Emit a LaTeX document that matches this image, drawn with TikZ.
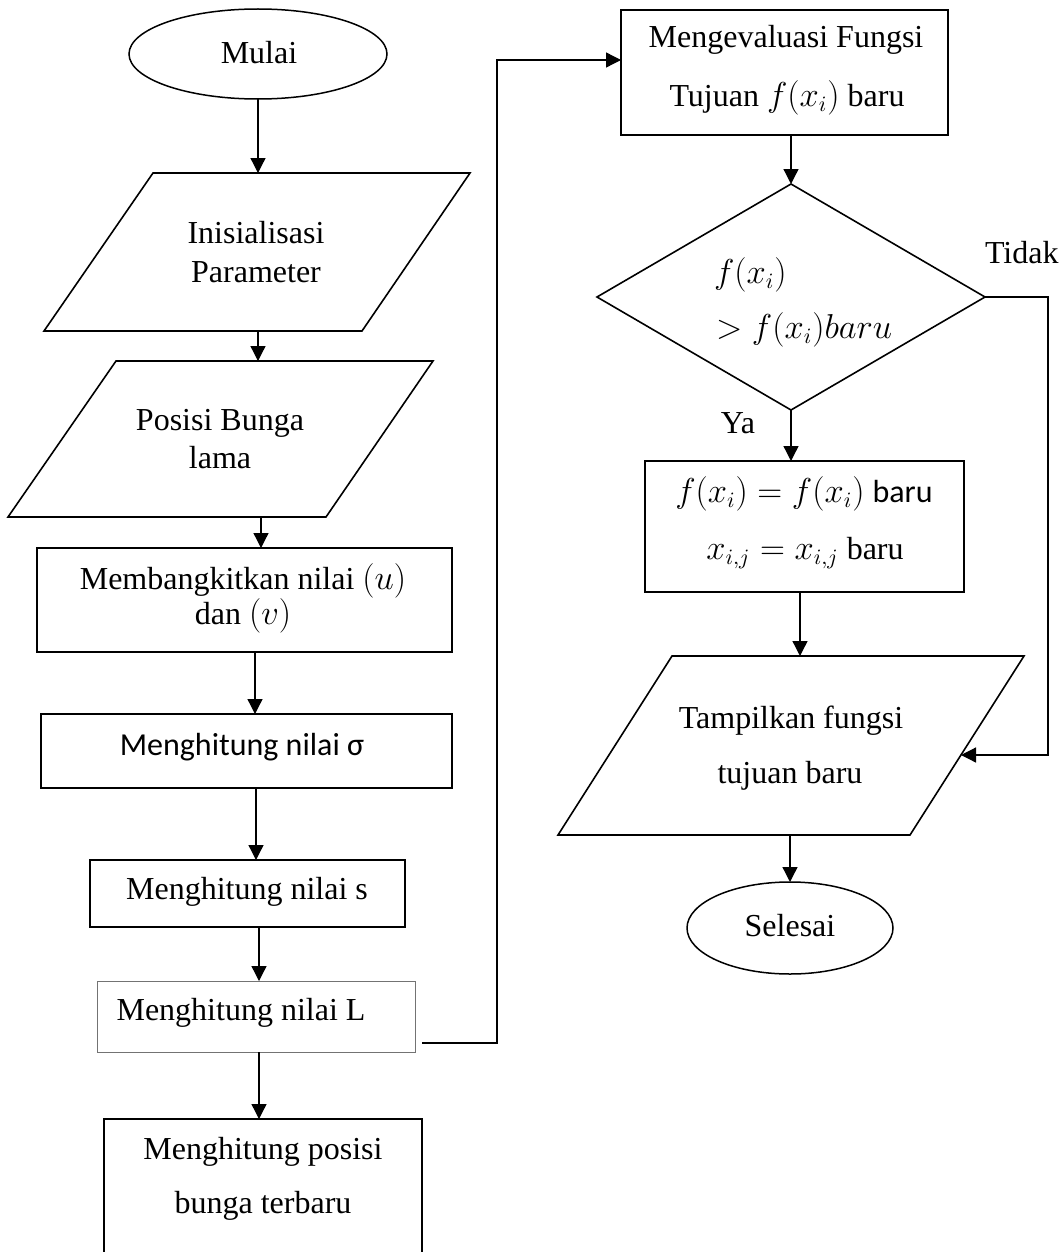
\documentclass[tikz,border=0pt]{standalone}
\usepackage{fontspec}
\setmainfont{Liberation Serif}
\newfontfamily\calibri{Carlito}
\usetikzlibrary{shapes.geometric,arrows.meta}
\begin{document}
\begin{tikzpicture}[x=0.5pt,y=-0.5pt,
  font=\fontsize{16pt}{19pt}\selectfont,
  every node/.style={inner sep=0pt, outer sep=0pt},
  shp/.style={draw, line width=0.8pt, line join=miter},
  box/.style={draw, rectangle, line width=0.8pt},
  oval/.style={draw, ellipse, line width=0.75pt},
  txt/.style={anchor=base},
  conn/.style={line width=0.65pt, -{Triangle[length=7.5pt,width=7.5pt]}}]
\useasboundingbox (0,0) rectangle (1059,1252);
\clip (0,0) rectangle (1059,1252);

% ---------- left column ----------
\node[oval, minimum width=129pt, minimum height=45pt] (mulai) at (258,54) {};
\node[txt] (tmulai) at (259,64) {Mulai};

\draw[shp] (153,173) -- (470,173) -- (362,331) -- (44,331) -- cycle;
\coordinate (p1n) at (258,173);
\coordinate (p1s) at (258,331);
\node[txt] (tini1) at (256,243) {Inisialisasi};
\node[txt] (tini2) at (256,282) {Parameter};

\draw[shp] (116,361) -- (433,361) -- (326,517) -- (8,517) -- cycle;
\coordinate (p2n) at (258,361);
\coordinate (p2s) at (261,517);
\node[txt] (tpos1) at (220,430) {Posisi Bunga};
\node[txt] (tpos2) at (220,468) {lama};

\node[box, minimum width=207.5pt, minimum height=52pt] (mem) at (244.5,600) {};
\node[txt] (tmem1) at (243,589) {Membangkitkan nilai $(u)$};
\node[txt] (tmem2) at (243,624) {dan $(v)$};

\node[box, minimum width=205.5pt, minimum height=37pt] (sig) at (246.5,751) {};
\node[txt] (tsig) at (242,755) {\calibri Menghitung nilai σ};

\node[box, minimum width=157.5pt, minimum height=33.5pt] (sbox) at (247.5,893.5) {};
\node[txt] (ts) at (247,899) {Menghitung nilai s};

\node[draw=black!55, line width=0.4pt, rectangle, minimum width=159pt, minimum height=35.5pt] (lbox) at (256,1016.5) {};
\node[txt] (tl) at (241,1020) {Menghitung nilai L};

\node[box, minimum width=159pt, minimum height=73pt] (pos) at (263,1192) {};
\node[txt] (tpb1) at (263,1159) {Menghitung posisi};
\node[txt] (tpb2) at (263,1213) {bunga terbaru};

% ---------- right column ----------
\node[box, minimum width=163.5pt, minimum height=62.5pt] (eval) at (784.5,72.5) {};
\node[txt] (tev1) at (786,48) {Mengevaluasi Fungsi};
\node[txt] (tev2) at (787,106) {Tujuan $f(x_i)$ baru};

\coordinate (dn) at (791,184);
\coordinate (de) at (985,297);
\coordinate (ds) at (791,410);
\coordinate (dw) at (597,297);
\draw[shp] (dn) -- (de) -- (ds) -- (dw) -- cycle;
\node[anchor=base west] (tdia1) at (714,283) {$f(x_i)$};
\node[anchor=base west] (tdia2) at (716,338) {$> f(x_i) baru$};
\node[anchor=base west] (ttidak) at (985,263) {Tidak};
\node[txt] (tya) at (738,433) {Ya};

\node[box, minimum width=159.5pt, minimum height=65.5pt] (fbox) at (804.5,526.5) {};
\node[txt] (tf1) at (804,502) {$f(x_i) = f(x_i)$ {\calibri baru}};
\node[txt] (tf2) at (805,559) {$x_{i,j} = x_{i,j}$ baru};

\draw[shp] (672,656) -- (1024,656) -- (910,835) -- (558,835) -- cycle;
\coordinate (p3n) at (800,656);
\coordinate (p3s) at (790,835);
\coordinate (p3e) at (961,755);
\node[txt] (ttam1) at (791,728) {Tampilkan fungsi};
\node[txt] (ttam2) at (790,783) {tujuan baru};

\node[oval, minimum width=103pt, minimum height=46pt] (selesai) at (790,928) {};
\node[txt] (tsel) at (790,936) {Selesai};

% ---------- connectors ----------
\draw[conn] (mulai.south) -- (p1n);
\draw[conn] (p1s) -- (p2n);
\draw[conn] (p2s) -- (p2s |- mem.north);
\draw[conn] (mem.south -| 255,0) -- (sig.north -| 255,0);
\draw[conn] (sig.south -| 256,0) -- (sbox.north -| 256,0);
\draw[conn] (sbox.south -| 259,0) -- (lbox.north -| 259,0);
\draw[conn] (lbox.south -| 259,0) -- (pos.north -| 259,0);
\coordinate (lout) at (422,1043);
\draw[conn] (lout) -- (497,1043) -- (497,60) -- (eval.west |- 0,60);

\draw[conn] (eval.south -| dn) -- (dn);
\draw[conn] (ds) -- (ds |- fbox.north);
\draw[conn] (fbox.south -| p3n) -- (p3n);
\draw[conn] (de) -- (1048,297) -- (1048,755) -- (p3e);
\draw[conn] (p3s) -- (selesai.north);
\end{tikzpicture}
\end{document}
